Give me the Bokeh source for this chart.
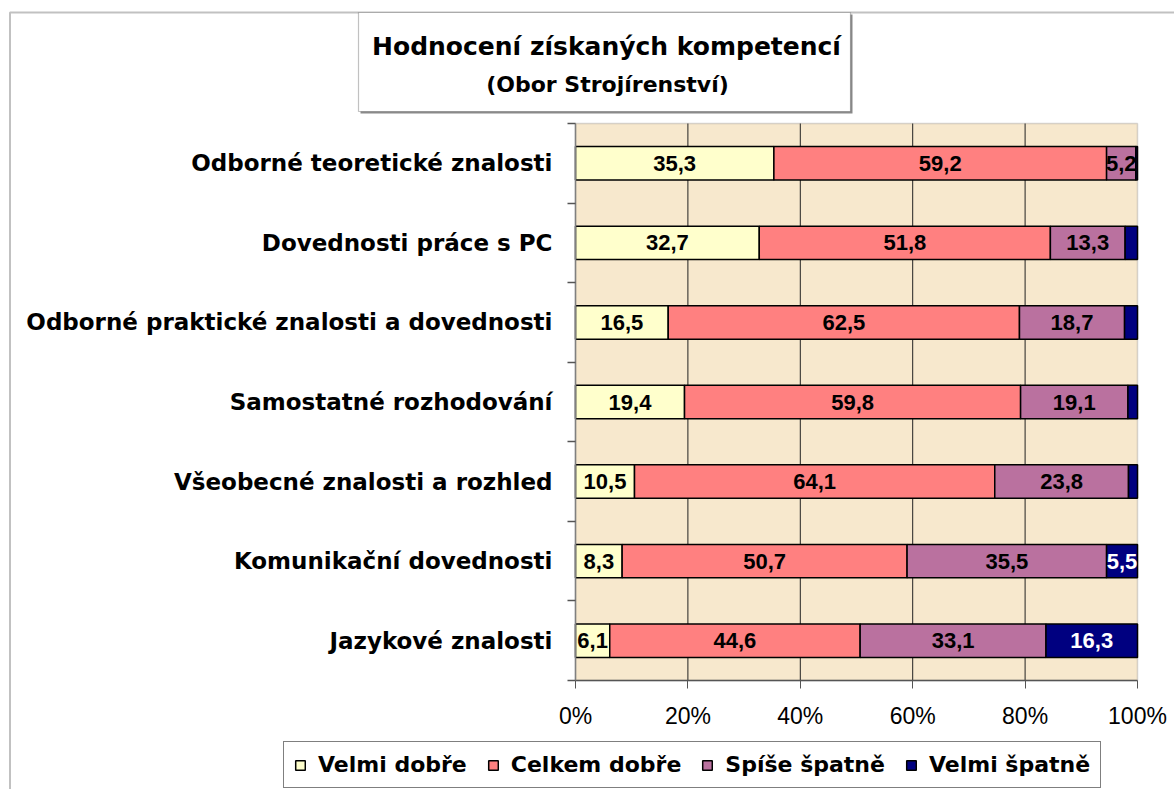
import numpy as np
from bokeh.plotting import figure
from bokeh.models import (ColumnDataSource, Range1d, FixedTicker, PrintfTickFormatter,
                          Legend, LegendItem, Label, BoxAnnotation)
from bokeh.core.properties import value
from bokeh.embed import file_html
from bokeh.resources import INLINE

# ---------------- data ----------------
categories = ["Odborné teoretické znalosti", "Dovednosti práce s PC",
              "Odborné praktické znalosti a dovednosti", "Samostatné rozhodování",
              "Všeobecné znalosti a rozhled", "Komunikační dovednosti", "Jazykové znalosti"]
velmi_dobre = [35.3, 32.7, 16.5, 19.4, 10.5, 8.3, 6.1]
celkem_dobre = [59.2, 51.8, 62.5, 59.8, 64.1, 50.7, 44.6]
spise_spatne = [5.2, 13.3, 18.7, 19.1, 23.8, 35.5, 33.1]
velmi_spatne = [0.3, 2.2, 2.3, 1.7, 1.6, 5.5, 16.3]
series_names = ["Velmi dobře", "Celkem dobře", "Spíše špatně", "Velmi špatně"]
x_ticks = [0, 20, 40, 60, 80, 100]
title_text = "Hodnocení získaných kompetencí"
subtitle_text = "(Obor Strojírenství)"

series_values = [velmi_dobre, celkem_dobre, spise_spatne, velmi_spatne]
fill_colors = ["#FFFFCC", "#FF8080", "#BA719F", "#000080"]
label_colors = ["black", "black", "black", "white"]

# ---------------- layout constants (canvas pixels) ----------------
W, H = 1174, 789
PX0, PX1 = 575, 1137        # plot area left / right
PY0, PY1 = 123, 680         # plot area top / bottom
n = len(categories)
ylo, yhi = -0.5, n - 0.5
xs = (PX1 - PX0) / 100.0
ys = (PY1 - PY0) / (yhi - ylo)
x_range = Range1d(-PX0 / xs, 100 + (W - PX1) / xs)
y_range = Range1d(ylo - (H - PY1) / ys, yhi + PY0 / ys)

p = figure(width=W, height=H, output_backend="svg", toolbar_location=None,
           x_range=x_range, y_range=y_range, min_border=0, title=None)
p.background_fill_color = "white"
p.border_fill_color = "white"
p.outline_line_color = None
p.xgrid.visible = False
p.ygrid.visible = False

# plot area background + gray outline
p.add_layout(BoxAnnotation(left=0, right=100, bottom=ylo, top=yhi, level="underlay",
                           fill_color="#F7E8CD", fill_alpha=1,
                           line_color="#808080", line_width=1.5))

# vertical gridlines
p.segment(x0=x_ticks[1:-1], x1=x_ticks[1:-1], y0=[ylo] * 4, y1=[yhi] * 4,
          line_color="#222222", line_width=1)

vals = np.array(series_values, dtype=float)
totals = vals.sum(axis=0)
shares = vals / totals * 100.0
lefts = np.vstack([np.zeros(vals.shape[1]), np.cumsum(shares, axis=0)[:-1]])
rights = lefts + shares
ypos = [n - 1 - i for i in range(n)]

renderers = []
for k, name in enumerate(series_names):
    src = ColumnDataSource(dict(y=ypos, left=lefts[k], right=rights[k]))
    kw = dict(y="y", left="left", right="right", height=0.42, source=src,
              fill_color=fill_colors[k], line_color="black", line_width=1.5)
    if k == 2:
        kw.update(hatch_pattern="v_line", hatch_color="#7E2458", hatch_scale=4,
                  hatch_weight=1.2, hatch_alpha=0.8)
    renderers.append(p.hbar(**kw))

# data labels
lx, ly, lt, lc = [], [], [], []
for k in range(len(series_names)):
    for i in range(n):
        v = series_values[k][i]
        if v >= 5:
            lx.append((lefts[k][i] + rights[k][i]) / 2)
            ly.append(ypos[i])
            lt.append(f"{v:.1f}".replace(".", ","))
            lc.append(label_colors[k])
p.text(x="x", y="y", text="t", text_color="c",
       source=ColumnDataSource(dict(x=lx, y=ly, t=lt, c=lc)),
       text_align="center", text_baseline="middle",
       text_font=value("Liberation Sans"), text_font_style="bold", text_font_size="22px")

# x axis (fixed at bottom of plot area)
xa = p.xaxis[0]
xa.fixed_location = ylo
xa.bounds = (0, 100)
xa.ticker = FixedTicker(ticks=x_ticks, minor_ticks=[])
xa.formatter = PrintfTickFormatter(format="%d%%")
xa.axis_line_color = "#555555"
xa.axis_line_width = 1.5
xa.major_tick_line_color = "#555555"
xa.major_tick_out = 8
xa.major_tick_in = 0
xa.major_label_standoff = 14
xa.major_label_text_font = "Liberation Sans"
xa.major_label_text_font_size = "23px"
xa.major_label_text_color = "black"

# y axis (fixed at 0 %)
ya = p.yaxis[0]
ya.fixed_location = 0
ya.bounds = (ylo, yhi)
ya.ticker = FixedTicker(ticks=ypos, minor_ticks=[v - 0.5 for v in range(n + 1)])
ya.major_label_overrides = {ypos[i]: categories[i] for i in range(n)}
ya.axis_line_color = "#808080"
ya.axis_line_width = 1.5
ya.major_tick_out = 0
ya.major_tick_in = 0
ya.minor_tick_out = 8
ya.minor_tick_in = 0
ya.minor_tick_line_color = "#555555"
ya.minor_tick_line_width = 1.5
ya.major_label_standoff = 15
ya.major_label_text_font = "DejaVu Sans"
ya.major_label_text_font_style = "bold"
ya.major_label_text_font_size = "23px"
ya.major_label_text_color = "black"

# legend (screen units, y up from bottom of canvas)
legend = Legend(items=[LegendItem(label=nm, renderers=[r]) for nm, r in zip(series_names, renderers)],
                location=(283, 1), orientation="horizontal",
                label_text_font="DejaVu Sans", label_text_font_style="bold",
                label_text_font_size="22px", label_text_color="black",
                glyph_width=12, glyph_height=12,
                label_standoff=12, spacing=20, padding=10, margin=0,
                border_line_color="black", border_line_width=1.2,
                background_fill_color="white", background_fill_alpha=1)
p.add_layout(legend)

def sbox(l, r, t, b, **kw):
    return BoxAnnotation(left=l, right=r, top=H - t, bottom=H - b,
                         left_units="screen", right_units="screen",
                         top_units="screen", bottom_units="screen", **kw)

# outer chart border (left and top visible)
p.add_layout(sbox(9.5, W + 50, 12, H + 50, fill_alpha=0, line_color="#333333", line_width=2))
# title box with shadow
p.add_layout(sbox(360, 852, 14, 113, fill_color="#8a8a8a", fill_alpha=1, line_alpha=0))
p.add_layout(sbox(358, 850, 12, 111, fill_color="white", fill_alpha=1,
                  line_color="#333333", line_width=1.2))
p.add_layout(Label(x=606, y=H - 46, x_units="screen", y_units="screen", text=title_text,
                   text_align="center", text_baseline="alphabetic", text_color="black",
                   text_font="DejaVu Sans", text_font_style="bold", text_font_size="25px"))
p.add_layout(Label(x=607, y=H - 84, x_units="screen", y_units="screen", text=subtitle_text,
                   text_align="center", text_baseline="alphabetic", text_color="black",
                   text_font="DejaVu Sans", text_font_style="bold", text_font_size="22px"))

open("out.html", "w").write(file_html(p, INLINE))
